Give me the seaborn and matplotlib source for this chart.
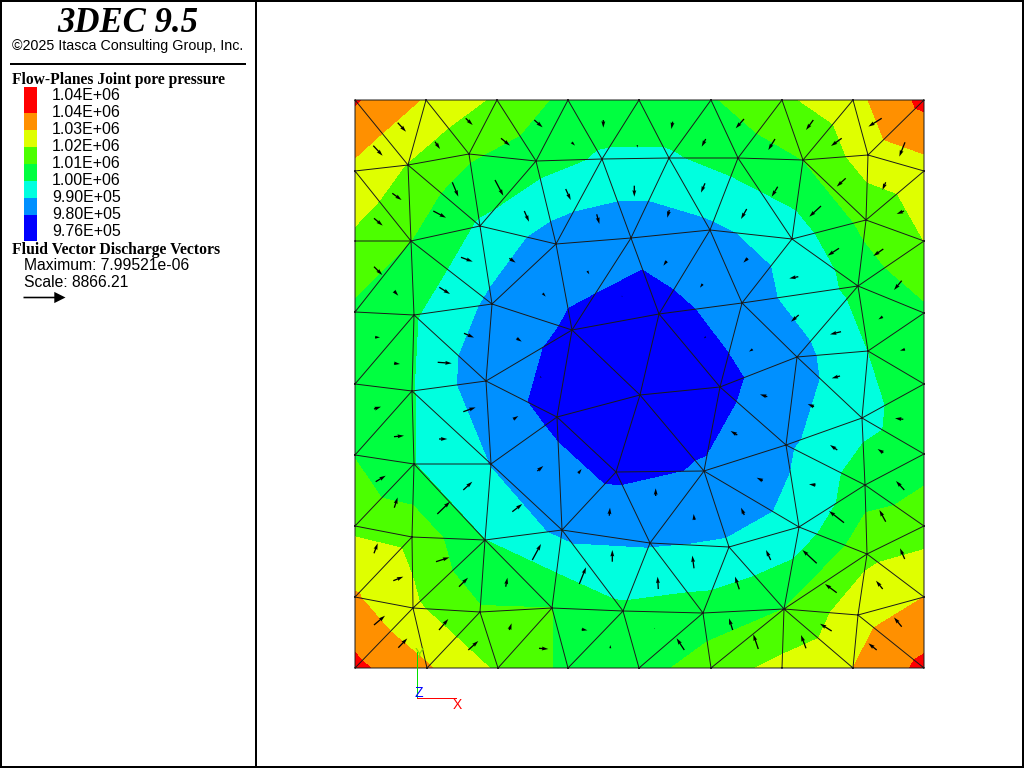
# 3DEC joint pore pressure plot with discharge vectors
import numpy as np
import seaborn as sns
import matplotlib
matplotlib.use("Agg")
import matplotlib.pyplot as plt
import matplotlib.tri as mtri
from matplotlib.colors import ListedColormap
from matplotlib.lines import Line2D
from matplotlib.patches import Rectangle

# Mesh nodes: x, y and pore pressure (in 1e4 Pa)
node_x = [0, 569, 0, 569,
          71, 142, 213, 284, 356, 427, 498,
          72, 143, 213, 284, 356, 427, 498,
          0, 0, 0, 0, 0, 0, 0,
          569, 569, 569, 569, 569, 569, 569,
          53, 114, 181, 247, 314, 383, 448, 513,
          56, 125, 201, 276, 355, 437, 511,
          59, 137, 217, 304, 387, 503,
          57, 131, 202, 285, 365, 442, 513,
          59, 136, 261, 349, 431, 507,
          57, 130, 207, 295, 374, 444, 510,
          58, 125, 197, 268, 348, 429, 503, 512]
node_y = [568, 568, 0, 0,
          568, 568, 568, 568, 568, 568, 568,
          0, 0, 0, 0, 0, 0, 0,
          497, 427, 356, 284, 213, 142, 71,
          497, 427, 355, 284, 214, 142, 71,
          503, 514, 507, 509, 510, 510, 508, 513,
          427, 442, 424, 430, 438, 429, 448,
          353, 364, 338, 354, 365, 382,
          277, 287, 251, 273, 281, 311, 317,
          204, 204, 196, 197, 223, 250,
          131, 128, 138, 125, 121, 141, 183,
          60, 56, 60, 57, 55, 59, 53, 114]
node_p = [104.1, 104.27, 104.25, 104.25,
          102.9, 101.83, 100.7, 100.5, 100.9, 101.8, 102.66,
          103.1, 101.85, 100.75, 100.6, 101.5, 102.3, 103.0,
          102.75, 101.8, 100.8, 100.3, 100.95, 101.8, 103.1,
          102.6, 102.0, 100.8, 100.5, 100.6, 101.5, 103.0,
          101.95, 101.15, 100.4, 99.87, 99.87, 100.4, 101.0, 102.5,
          101.0, 99.85, 98.45, 98.23, 98.8, 99.41, 101.3,
          100.1, 98.76, 97.84, 97.66, 98.41, 100.3,
          100.05, 98.3, 97.78, 97.6, 97.71, 98.61, 100.0,
          100.02, 98.95, 97.79, 98.06, 98.82, 99.7,
          101.75, 100.0, 98.75, 98.9, 99.12, 99.35, 100.5,
          102.2, 101.1, 101.0, 100.2, 100.45, 101.0, 102.6, 101.75]

# Mesh triangles, by node index
triangles = [
    (0, 4, 32), (0, 18, 32), (4, 32, 33), (4, 5, 33), (5, 33, 34), (5, 6, 34), (6, 34, 35), (6, 7, 35),
    (18, 32, 40), (18, 19, 40), (32, 33, 41), (32, 40, 41), (33, 34, 41), (34, 41, 42), (34, 35, 42),
    (35, 42, 43), (35, 36, 43), (7, 35, 36), (19, 20, 40), (20, 40, 47), (40, 47, 48), (40, 41, 48),
    (41, 42, 48), (42, 48, 49), (42, 43, 49), (43, 49, 50), (20, 21, 47), (47, 48, 54), (48, 49, 54),
    (21, 47, 53), (47, 53, 54), (49, 54, 55), (49, 55, 56), (49, 50, 56),
    (7, 8, 36), (8, 36, 37), (8, 9, 37), (9, 37, 38), (9, 10, 38), (10, 38, 39), (10, 1, 39), (1, 25, 39),
    (25, 39, 46), (38, 39, 46), (25, 26, 46), (38, 45, 46), (37, 38, 45), (37, 44, 45), (36, 37, 44),
    (36, 43, 44), (43, 44, 50), (44, 50, 51), (44, 45, 51), (45, 51, 52), (45, 46, 52), (26, 46, 52),
    (26, 27, 52), (27, 52, 59), (51, 52, 58), (52, 58, 59), (50, 51, 57), (51, 57, 58), (50, 56, 57),
    (27, 28, 59), (28, 59, 65), (58, 59, 65), (58, 64, 65), (57, 58, 64),
    (56, 57, 63), (57, 63, 64), (28, 29, 65), (29, 65, 72), (64, 65, 72), (63, 64, 71), (64, 71, 72),
    (29, 30, 72), (30, 72, 80), (71, 72, 80), (30, 31, 80), (31, 79, 80), (78, 79, 80), (71, 78, 80),
    (70, 71, 78), (63, 70, 71), (62, 63, 69), (63, 69, 70), (69, 70, 77), (70, 77, 78), (15, 77, 78),
    (15, 16, 78), (16, 17, 78), (17, 78, 79), (17, 3, 79), (3, 31, 79), (69, 76, 77), (14, 76, 77), (14, 15, 77),
    (21, 22, 53), (22, 53, 60), (53, 54, 61), (53, 60, 61), (54, 55, 61), (55, 56, 62), (56, 62, 63),
    (55, 61, 68), (55, 62, 68), (62, 68, 69), (22, 23, 60), (23, 60, 66), (23, 24, 66), (60, 66, 67),
    (60, 61, 67), (61, 67, 68), (67, 68, 75), (68, 75, 76), (68, 69, 76), (66, 67, 73), (24, 66, 73),
    (67, 73, 74), (67, 74, 75), (24, 2, 73), (2, 11, 73), (11, 73, 74), (11, 12, 74), (12, 74, 75),
    (12, 13, 75), (13, 75, 76), (13, 14, 76),
]

# Discharge vectors: tail position and components
vec_x = [42.7, 18.3, 110.7, 80, 179.3, 146, 248.3, 216.7, 282.3, 97.3, 140, 37.3, 19, 78.3, 169.3, 210.7,
         279.3, 241.7, 106, 154.3, 19, 84.3, 39, 187.7, 232.3, 266.7, 20, 109, 161.7, 39, 82.7, 185,
         317.7, 350.7, 389, 420, 458.3, 486.7, 526.7, 550, 350, 422.7, 530.7, 490.7, 466, 549, 314.3, 391.7,
         484, 528.3, 311.7, 392.7, 546.7, 443.3, 347.7, 443.7, 527.7, 486, 350.7, 397.7, 550, 485,
         19, 108.3, 158.3, 39, 84, 182.3, 223.3, 20.7, 108.3, 39.3, 82.3, 157.3, 254.3, 19, 177.3, 257.3,
         224.3, 81, 38.3, 104, 150.7, 19, 84, 154.3, 43.3, 113.3, 184, 226.7, 255.3,
         412.3, 459, 548.3, 382.3, 482.3, 528.3, 407.7, 460.7, 549.3, 300.7, 389.3, 489, 530.7, 339.3, 415.7,
         461.7, 549.7, 339, 303.3, 384.3, 481.7, 527.7, 300, 377.7, 476.7, 546.7, 329.3, 403.3, 451, 521.7]
vec_y = [545.3, 522.3, 549.7, 526.3, 548, 529.7, 548, 525.7, 523, 485.7, 488, 474.7, 449.7, 457, 457, 479,
         482.3, 453.7, 410.7, 409.7, 401.3, 380.7, 377, 374.7, 397, 372, 330.7, 334.7, 329.7, 304.7, 305.7, 291.3,
         546.3, 529, 549, 529, 548, 529.7, 549.7, 525.7, 484.7, 481.3, 485.7, 489.7, 462, 457, 458, 459,
         419.7, 419, 407, 409.7, 387.3, 391.3, 384, 353, 351.3, 336.3, 331.3, 318.7, 318.7, 292,
         259, 256.3, 248.7, 231.3, 229, 197, 194.7, 186.3, 178, 160.3, 154, 156.3, 152.3, 114.7, 108, 106.3,
         84, 106.3, 87.3, 81.3, 81.3, 43, 38, 38, 20.3, 18, 19.7, 38.7, 19.7,
         271.3, 261.3, 248.7, 233, 218, 215.3, 187.3, 183, 178, 172, 153, 145.3, 146.3, 148, 108,
         104.7, 109, 99.7, 79, 78.7, 75.3, 79, 39.7, 38, 37, 41.3, 18, 19, 19.7, 18]
vec_u = [8.3, 9.3, 7, 5, 8.3, 9, 0, 3.3, 0, 6, 8.3, 9.3, 8.7, 12.7, 4.7, 5,
         0, 2.7, 11.7, 6.3, 8.3, 10.7, 4.3, 3, 2, 1, 5, 10, 5, 6, 14, 1.7,
         -1.3, -4, -8.3, -6.7, -7.3, -10.7, -13.3, -5.7, -4, -6, -3.3, -9, -11.7, -7.3, -2, -5.7,
         -11.3, -10, -3.3, -4.3, -7.7, -9, -2.7, -7.7, -4.3, -11, -1.7, -3.7, -5, -8.3,
         7, 12.3, 5, 10, 8.3, 6, 3.3, 10, 9, 3.3, 12.7, 10, 0.7, 3.7, 8.7, 0,
         6.7, 13.3, 10, 9, 1.7, 11, 9.3, 2.3, 9, 10, 9.3, 5.7, 0,
         -7.3, -6.3, -8.3, -6.7, -7.3, -5.7, -6, -6.7, -8.3, 0, -3.3, -15, -6.3, -0.7, -4.7,
         -14.3, -4.7, -1.7, -0.7, -4.3, -11.7, -6.7, -1, -3.7, -11.7, -7.7, -7.7, -5, -5, -8.3]
vec_v = [-9, -10, -6.7, -7.3, -7.3, -7.3, -7.7, -3.3, -2.7, -14.3, -15.7, -6.7, -7.3, -6.7, -10.7, -11,
         -11, -9.7, -4.3, -4.3, -8.3, -6.7, -4.7, -3.3, -3.3, -0.7, 0, -4.3, -3.3, -0.7, -1, -1,
         -7.3, -7.7, -9.3, -11, -10, -7.7, -8.3, -14.3, -9.3, -10, -7.7, -8.3, -10.7, -3, -7.7, -10,
         -7.3, -7, -4.7, -4.3, -9.3, -1.7, -3.7, -6.7, -2.7, -2.7, -1.7, -2.3, -1.3, -2.3,
         2.3, 4.3, 3.3, 1, 0, 5, 4.3, 6, 8.3, 10.3, 12.3, 7.7, 8, 10, 16, 11.7,
         16.7, 4.3, 4, 9, 9, 9.3, 11, 6.7, 9.3, 9, -0.7, -1, 3.3,
         2.3, 2.7, 1, 4, 5, 3.7, 3, 0.7, 9, 7.7, 7.3, 11.7, 11.7, 6, 10,
         13.3, 10.7, 12.7, 12.3, 12.7, 8.7, 8.3, 0.3, 11.7, 7.3, 9.3, 11.7, 14.7, 13.3, 6.7]

# Contour bands, lowest first
levels = [97.0, 98.0, 99.0, 100.0, 101.0, 102.0, 103.0, 104.0, 105.0]
band_colors = ["#0000FF", "#0090FF", "#00FFDF", "#00FF40", "#4CFF00", "#DFFF00", "#FF9000", "#FF0000"]
key_labels = ["1.04E+06", "1.04E+06", "1.03E+06", "1.02E+06", "1.01E+06", "1.00E+06",
              "9.90E+05", "9.80E+05", "9.76E+05"]
key_rows = [3, 2, 2, 2, 2, 2, 2, 3]  # first and last swatch are taller

sns.set_style("white")
sans = "Liberation Sans"
serif = "Liberation Serif"

fig = plt.figure(figsize=(10.24, 7.68), dpi=100, facecolor="white")


def fx(px):
    return px / 1024


def fy(py):
    return 1 - py / 768


def label(px, py, txt, **kw):
    kw.setdefault("family", sans)
    kw.setdefault("fontsize", 11.5)
    kw.setdefault("va", "center")
    kw.setdefault("color", "black")
    fig.text(fx(px), fy(py), txt, **kw)


def rule(x0, y0, x1, y1, color="black", lw=1.1):
    fig.add_artist(Line2D([fx(x0), fx(x1)], [fy(y0), fy(y1)], color=color, lw=lw, antialiased=False))


# Model view
ax = fig.add_axes([fx(355), fy(668), 569 / 1024, 568 / 768])
triang = mtri.Triangulation(np.array(node_x, float), np.array(node_y, float), triangles)
ax.tricontourf(triang, node_p, levels=levels, colors=band_colors, antialiased=False)
ax.triplot(triang, color="#1a1a1a", lw=0.7, antialiased=True, clip_on=False)
ax.quiver(vec_x, vec_y, vec_u, vec_v, angles="xy", scale_units="xy", scale=1, units="dots",
          width=1.3, headwidth=3, headlength=5, headaxislength=4.5, minlength=0, color="black")
ax.set_xlim(0, 569)
ax.set_ylim(0, 568)
ax.set_axis_off()

# Colour key, drawn as a one column heatmap
key_ax = fig.add_axes([fx(24), fy(241), 13 / 1024, 154 / 768])
cells = np.repeat(np.arange(len(key_rows)), key_rows).reshape(-1, 1)
sns.heatmap(cells, ax=key_ax, cmap=ListedColormap(band_colors[::-1]), cbar=False,
            xticklabels=False, yticklabels=False, vmin=-0.5, vmax=7.5)

for i, txt in enumerate(key_labels):
    label(52, 95.5 + i * 17, txt)

# Frame and side panel
fig.add_artist(Rectangle((fx(0.5), fy(766.5)), fx(1022), 766 / 768, fill=False, ec="black", lw=1.1,
                         transform=fig.transFigure, antialiased=False))
rule(256, 0, 256, 767)
rule(11, 63.5, 245, 63.5)

label(128, 23, "3DEC 9.5", family=serif, weight="bold", style="italic", fontsize=25, ha="center")
label(128, 46, "\u00a92025 Itasca Consulting Group, Inc.", fontsize=10.3, ha="center")
label(12, 79.5, "Flow-Planes Joint pore pressure", family=serif, weight="bold", fontsize=11.2)
label(12, 249.5, "Fluid Vector Discharge Vectors", family=serif, weight="bold", fontsize=11.35)
label(24, 265.5, "Maximum: 7.99521e-06", fontsize=11.3)
label(24, 282.5, "Scale: 8866.21", fontsize=11.3)
ax.quiver([-332], [371], [42], [0], angles="xy", scale_units="xy", scale=1, units="dots", width=1.6,
          headwidth=7, headlength=7, headaxislength=7, color="black", clip_on=False)

# Axis triad
rule(416.5, 698, 416.5, 652, color="#00E000", lw=0.5)
rule(416.5, 698, 456, 698, color="#FF0000", lw=0.5)
label(419, 654, "Y", color="#7FE000", ha="center", fontsize=10)
label(419, 693, "Z", color="#0000FF", ha="center", fontsize=10)
label(457, 705, "X", color="#FF0000", ha="center", fontsize=10)

fig.savefig("out.png", dpi=100, facecolor="white")
